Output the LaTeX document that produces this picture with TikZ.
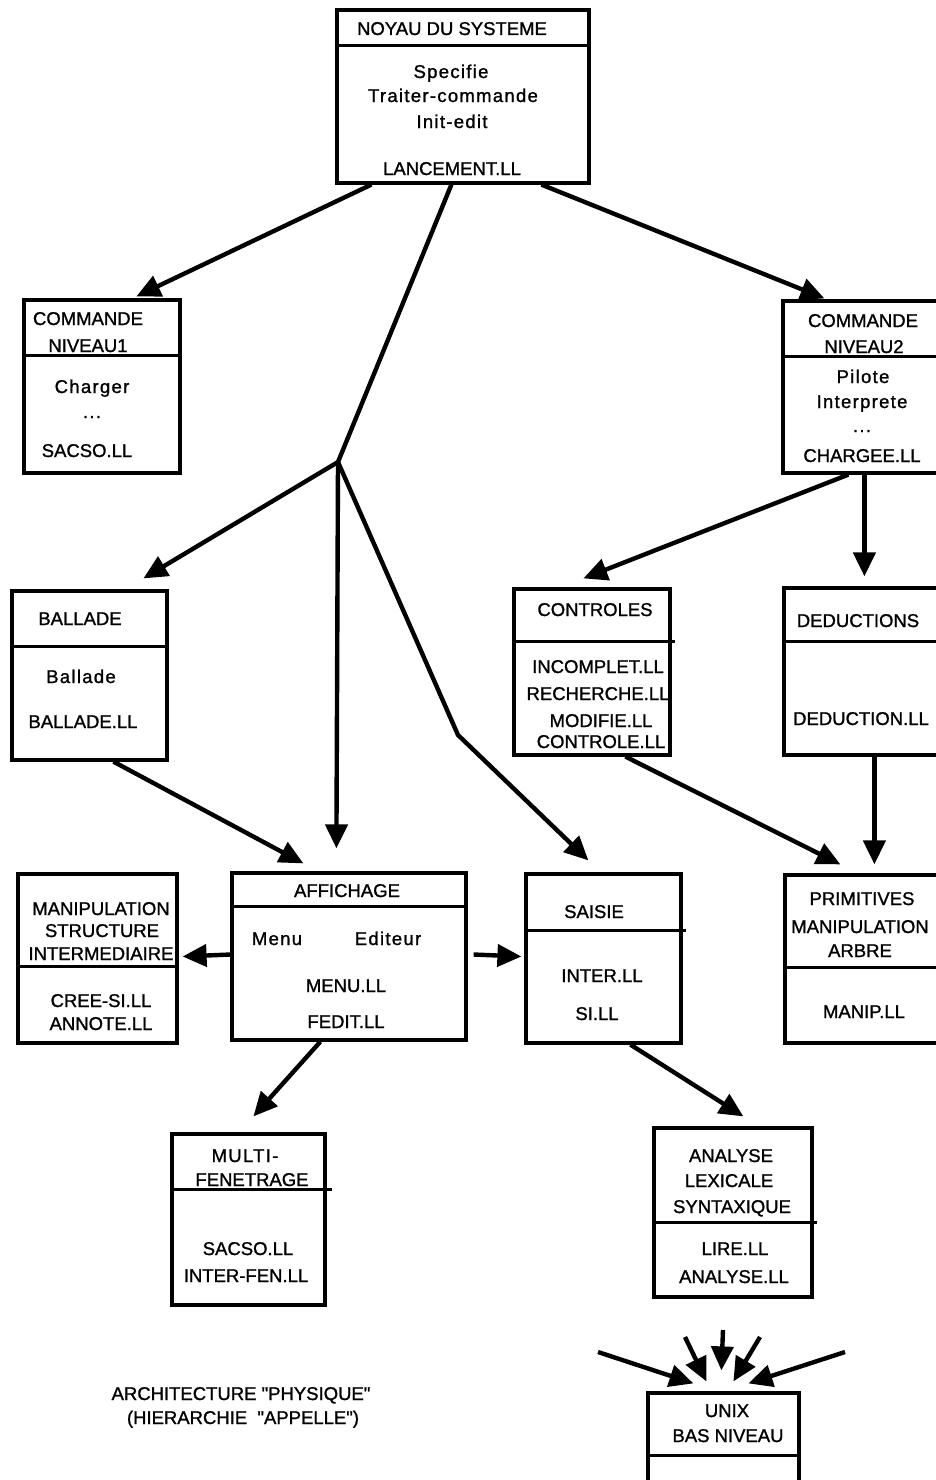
\documentclass[tikz,border=0pt]{standalone}
\usepackage{fontspec}
\setmainfont[FakeBold=1.2]{Liberation Sans}
\newfontfamily\lcfont[LetterSpace=7,FakeBold=1.2]{Liberation Sans}
\newfontfamily\capfont[Ligatures=TeXOff,FakeBold=1.2]{Liberation Sans}
\usetikzlibrary{arrows.meta,fit,calc}

\begin{document}
\begin{tikzpicture}[x=1pt,y=-1pt,
  box/.style={draw, line width=3.2pt, inner sep=0pt},
  div/.style={line width=3pt},
  txt/.style={anchor=base, inner sep=0pt, font=\fontsize{18.5}{20}\selectfont},
  lc/.style={anchor=base, inner sep=0pt, font=\lcfont\fontsize{18.5}{20}\selectfont},
  captiontext/.style={anchor=base, inner sep=0pt, font=\capfont\fontsize{18.5}{20}\selectfont},
  arr/.style={line width=4.4pt, -{Triangle[length=24pt,width=22pt]}},
  link/.style={line width=4.4pt},
]
\useasboundingbox (0,0) rectangle (936,1480);
\clip (0,0) rectangle (936,1480);

% ---------- boxes ----------
\node[box, fit={(337,10) (589,183)}] (noyau) {};
\node[box, fit={(24,300) (180,473)}] (cmd1) {};
\node[box, fit={(783,301) (950,473)}] (cmd2) {};
\node[box, fit={(12,591) (167,760)}] (ballade) {};
\node[box, fit={(514,589) (670,755)}] (controles) {};
\node[box, fit={(784,588) (950,755)}] (deductions) {};
\node[box, fit={(18,874) (177,1043)}] (manip) {};
\node[box, fit={(232,873) (466,1040)}] (affichage) {};
\node[box, fit={(526,874) (681,1043)}] (saisie) {};
\node[box, fit={(785,875) (950,1043)}] (primitives) {};
\node[box, fit={(172,1134) (325,1305)}] (multi) {};
\node[box, fit={(654,1128) (812,1297)}] (analyse) {};
\node[box, fit={(648,1393) (799,1500)}] (unix) {};

% ---------- dividers ----------
\draw[div] ($(noyau.north west)+(0,37)$) -- ($(noyau.north east)+(0,37)$);
\draw[div] ($(cmd1.north west)+(0,57)$) -- ($(cmd1.north east)+(0,57)$);
\draw[div] ($(cmd2.north west)+(0,57)$) -- ($(cmd2.north east)+(0,57)$);
\draw[div] ($(ballade.north west)+(0,57)$) -- ($(ballade.north east)+(0,57)$);
\draw[div] ($(controles.north west)+(0,54)$) -- ($(controles.north east)+(3,54)$);
\draw[div] ($(deductions.north west)+(0,55)$) -- ($(deductions.north east)+(0,55)$);
\draw[div] ($(manip.north west)+(0,94)$) -- ($(manip.north east)+(0,94)$);
\draw[div] ($(affichage.north west)+(0,35)$) -- ($(affichage.north east)+(0,35)$);
\draw[div] ($(saisie.north west)+(0,58)$) -- ($(saisie.north east)+(3,58)$);
\draw[div] ($(primitives.north west)+(0,94)$) -- ($(primitives.north east)+(0,94)$);
\draw[div] ($(multi.north west)+(0,57)$) -- ($(multi.north east)+(5,57)$);
\draw[div] ($(analyse.north west)+(0,96)$) -- ($(analyse.north east)+(3,96)$);
\draw[div] ($(unix.north west)+(0,64)$) -- ($(unix.north east)+(0,64)$);

% ---------- texts ----------
\node[txt] (noyau-h) at (452,35) {NOYAU DU SYSTEME};
\node[lc]  (noyau-a) at (451,78) {Specifie};
\node[lc]  (noyau-b) at (453,102) {Traiter-commande};
\node[lc]  (noyau-c) at (452,128) {Init-edit};
\node[txt] (noyau-f) at (452,175) {LANCEMENT.LL};

\node[txt] (cmd1-h1) at (88,325) {COMMANDE};
\node[txt] (cmd1-h2) at (88,352) {NIVEAU1};
\node[lc]  (cmd1-a)  at (92,393) {Charger};
\node[lc]  (cmd1-b)  at (92,418) {...};
\node[txt] (cmd1-f)  at (87,457) {SACSO.LL};

\node[txt] (cmd2-h1) at (863,327) {COMMANDE};
\node[txt] (cmd2-h2) at (864,353) {NIVEAU2};
\node[lc]  (cmd2-a)  at (863,383) {Pilote};
\node[lc]  (cmd2-b)  at (862,408) {Interprete};
\node[lc]  (cmd2-c)  at (862,432) {...};
\node[txt] (cmd2-f)  at (862,462) {CHARGEE.LL};

\node[txt] (ballade-h) at (80,625) {BALLADE};
\node[lc]  (ballade-a) at (81,683) {Ballade};
\node[txt] (ballade-f) at (83,728) {BALLADE.LL};

\node[txt] (controles-h) at (595,616) {CONTROLES};
\node[txt] (controles-a) at (598,673) {INCOMPLET.LL};
\node[txt] (controles-b) at (598,700) {RECHERCHE.LL};
\node[txt] (controles-c) at (601,727) {MODIFIE.LL};
\node[txt] (controles-d) at (601,748) {CONTROLE.LL};

\node[txt] (deductions-h) at (858,627) {DEDUCTIONS};
\node[txt] (deductions-f) at (861,725) {DEDUCTION.LL};

\node[txt] (manip-h1) at (101,915) {MANIPULATION};
\node[txt] (manip-h2) at (102,937) {STRUCTURE};
\node[txt] (manip-h3) at (101,960) {INTERMEDIAIRE};
\node[txt] (manip-a)  at (101,1007) {CREE-SI.LL};
\node[txt] (manip-b)  at (101,1030) {ANNOTE.LL};

\node[txt] (affichage-h) at (347,897) {AFFICHAGE};
\node[lc]  (affichage-a) at (277,945) {Menu};
\node[lc]  (affichage-b) at (388,945) {Editeur};
\node[txt] (affichage-c) at (346,992) {MENU.LL};
\node[txt] (affichage-d) at (346,1028) {FEDIT.LL};

\node[txt] (saisie-h) at (594,918) {SAISIE};
\node[txt] (saisie-a) at (602,982) {INTER.LL};
\node[txt] (saisie-b) at (597,1020) {SI.LL};

\node[txt] (primitives-h1) at (862,905) {PRIMITIVES};
\node[txt] (primitives-h2) at (860,933) {MANIPULATION};
\node[txt] (primitives-h3) at (860,957) {ARBRE};
\node[txt] (primitives-f)  at (864,1018) {MANIP.LL};

\node[lc]  (multi-h1) at (245,1162) {MULTI-};
\node[txt] (multi-h2) at (252,1186) {FENETRAGE};
\node[txt] (multi-a)  at (248,1255) {SACSO.LL};
\node[txt] (multi-b)  at (246,1282) {INTER-FEN.LL};

\node[txt] (analyse-h1) at (731,1162) {ANALYSE};
\node[txt] (analyse-h2) at (729,1187) {LEXICALE};
\node[txt] (analyse-h3) at (732,1213) {SYNTAXIQUE};
\node[txt] (analyse-a)  at (735,1255) {LIRE.LL};
\node[txt] (analyse-b)  at (734,1283) {ANALYSE.LL};

\node[txt] (unix-h1) at (727,1417) {UNIX};
\node[txt] (unix-h2) at (728,1442) {BAS NIVEAU};

\node[captiontext] (caption1) at (241,1400) {ARCHITECTURE "PHYSIQUE"};
\node[captiontext] (caption2) at (243,1424) {(HIERARCHIE\ \ "APPELLE")};

% ---------- connectors ----------
\coordinate (fork) at (338,462);
\coordinate (bend) at (458,735);

\draw[arr] ($(noyau.south west)+(36,0)$) -- ($(cmd1.north west)+(114,-2)$);
\draw[arr] ($(noyau.south west)+(206,0)$) -- ($(cmd2.north west)+(43,-1)$);
\draw[link] ($(noyau.south west)+(116,0)$) -- (fork);
\draw[arr] (fork) -- ($(ballade.north west)+(133,-11)$);
\draw[arr] (fork) -- ($(affichage.north west)+(106,-23)$);
\draw[arr, line join=round] (fork) -- (bend) -- ($(saisie.north west)+(64,-12)$);

\draw[arr] ($(cmd2.south west)+(67,0)$) -- ($(controles.north west)+(71,-9)$);
\draw[arr] ($(cmd2.south west)+(83,0)$) -- ($(deductions.north west)+(82,-10)$);

\draw[arr] ($(ballade.south west)+(103,0)$) -- ($(affichage.north west)+(73,-8)$);
\draw[arr] ($(controles.south west)+(113,0)$) -- ($(primitives.north west)+(57,-9)$);
\draw[arr] ($(deductions.south west)+(92,0)$) -- ($(primitives.north west)+(91,-9)$);

\draw[arr] ($(affichage.west)+(0,-2)$) -- ($(manip.east)+(4,-2)$);
\draw[arr] ($(affichage.east)+(6,-2)$) -- ($(saisie.west)+(-3,-2)$);

\draw[arr] ($(affichage.south west)+(90,0)$) -- ($(multi.north west)+(83,-16)$);
\draw[arr] ($(saisie.south west)+(106,0)$) -- ($(analyse.north west)+(91,-10)$);

% calls converging on the low level layer
\coordinate (u1) at (598,1352);
\coordinate (u2) at (685,1337);
\coordinate (u3) at (723,1330);
\coordinate (u4) at (760,1337);
\coordinate (u5) at (845,1352);
\draw[arr] (u1) -- ($(unix.north west)+(47,-8)$);
\draw[arr] (u2) -- ($(unix.north west)+(60,-10)$);
\draw[arr] (u3) -- ($(unix.north west)+(75,-21)$);
\draw[arr] (u4) -- ($(unix.north west)+(87,-10)$);
\draw[arr] (u5) -- ($(unix.north west)+(102,-8)$);
\end{tikzpicture}
\end{document}
